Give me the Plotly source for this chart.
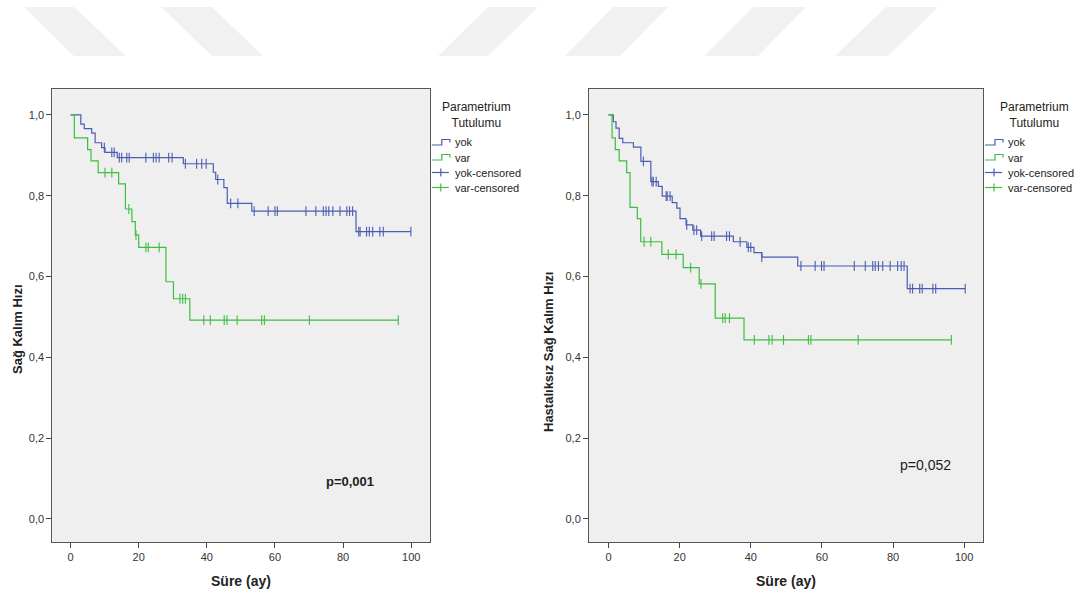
import numpy as np
import plotly.graph_objects as go

# ---------------- data ----------------
# Left panel: overall survival (Sağ Kalım Hızı)
os_yok_t = [0, 3.0, 4.0, 6.2, 7.2, 9.1, 10.1, 13.7, 33.1, 41.9, 42.6, 45.0, 46.0, 53.2, 83.8, 99.9]
os_yok_s = [1.0, 0.977, 0.966, 0.955, 0.931, 0.919, 0.907, 0.894, 0.879, 0.858, 0.840, 0.820, 0.781, 0.762, 0.711, 0.711]
os_yok_cens = [9.9, 12.1, 12.8, 14.3, 15.0, 16.5, 17.2, 22.1, 24.3, 25.1, 26.0, 28.8, 29.8,
               33.7, 37.0, 38.5, 39.8, 43.2, 47.0, 49.1, 53.9, 58.0, 60.0, 60.7, 69.1, 72.0,
               74.2, 75.0, 75.8, 77.0, 79.1, 81.1, 81.9, 82.8, 84.6, 85.0, 86.9, 87.7, 88.7,
               90.8, 91.8, 99.9]

os_var_t = [0, 1.1, 5.0, 6.0, 8.1, 14.1, 16.1, 18.0, 19.0, 20.0, 28.0, 30.2, 35.0, 96.2]
os_var_s = [1.0, 0.943, 0.914, 0.886, 0.857, 0.829, 0.767, 0.736, 0.703, 0.672, 0.587, 0.545, 0.492, 0.492]
os_var_cens = [10.1, 12.1, 17.1, 19.2, 22.1, 22.8, 26.0, 32.1, 32.9, 33.7, 39.1, 41.0, 45.1,
               45.9, 48.9, 56.1, 56.9, 70.1, 96.2]

# Right panel: disease-free survival (Hastalıksız Sağ Kalım Hızı)
dfs_yok_t = [0, 1.35, 2.1, 3.0, 4.0, 7.0, 9.1, 11.9, 14.0, 15.1, 17.9, 19.2, 20.1, 21.8, 23.7,
             25.9, 35.1, 38.9, 40.9, 43.1, 53.2, 84.0, 100.3]
dfs_yok_s = [1.0, 0.983, 0.967, 0.942, 0.931, 0.920, 0.885, 0.835, 0.823, 0.799, 0.783, 0.769,
             0.743, 0.728, 0.715, 0.700, 0.686, 0.672, 0.659, 0.648, 0.626, 0.570, 0.570]
dfs_yok_cens = [9.8, 12.2, 12.6, 13.4, 16.2, 16.5, 17.3, 22.0, 24.0, 24.8, 26.2, 29.0, 29.7,
                33.2, 34.0, 37.0, 39.3, 40.0, 43.1, 54.1, 58.1, 59.9, 60.6, 69.1, 72.2, 74.3,
                75.0, 75.9, 77.1, 79.2, 81.3, 82.3, 83.1, 84.8, 85.5, 87.5, 88.2, 91.2, 92.0,
                100.3]

dfs_var_t = [0, 1.0, 1.9, 3.0, 5.1, 6.05, 8.1, 9.05, 15.0, 21.0, 25.5, 30.0, 38.1, 96.4]
dfs_var_s = [1.0, 0.943, 0.914, 0.886, 0.857, 0.771, 0.743, 0.686, 0.655, 0.622, 0.582, 0.497, 0.443, 0.443]
dfs_var_cens = [10.0, 11.9, 16.8, 19.0, 23.1, 26.0, 32.1, 32.8, 34.0, 41.0, 45.1, 46.0, 49.2,
                56.2, 56.9, 70.2, 96.4]

x_ticks = [0, 20, 40, 60, 80, 100]
y_ticks = [0.0, 0.2, 0.4, 0.6, 0.8, 1.0]
y_ticktext = ["0,0", "0,2", "0,4", "0,6", "0,8", "1,0"]
groups = ["yok", "var"]
legend_labels = ["yok", "var", "yok-censored", "var-censored"]
legend_title = "Parametrium<br>Tutulumu"
y_titles = ["Sağ Kalım Hızı", "Hastalıksız Sağ Kalım Hızı"]
x_title = "Süre (ay)"
p_texts = ["<b>p=0,001</b>", "p=0,052"]

# ---------------- styling ----------------
W, H = 1077, 596
BLUE = "#4A5DB2"
GREEN = "#3EBE3E"
FONT = "Arial, Liberation Sans, sans-serif"
TXT = "#222222"


def px(x):
    return x / W


def py(y):
    return 1 - y / H


def step_at(t, s, c):
    t = np.asarray(t)
    s = np.asarray(s)
    idx = np.searchsorted(t, np.asarray(c), side="right") - 1
    return s[idx]


fig = go.Figure()

panels = [
    ("x", "y", (os_yok_t, os_yok_s, os_yok_cens), (os_var_t, os_var_s, os_var_cens)),
    ("x2", "y2", (dfs_yok_t, dfs_yok_s, dfs_yok_cens), (dfs_var_t, dfs_var_s, dfs_var_cens)),
]

for xa, ya, yok, var in panels:
    for (t, s, c), col, g in [(yok, BLUE, "yok"), (var, GREEN, "var")]:
        fig.add_trace(go.Scatter(x=t, y=s, mode="lines", line=dict(color=col, width=1.2, shape="hv"),
                                 xaxis=xa, yaxis=ya, showlegend=False, name=g, hoverinfo="skip"))
    for (t, s, c), col, g in [(yok, BLUE, "yok-censored"), (var, GREEN, "var-censored")]:
        fig.add_trace(go.Scatter(x=c, y=step_at(t, s, c), mode="markers",
                                 marker=dict(symbol="line-ns-open", size=7, color=col,
                                             line=dict(color=col, width=1.1)),
                                 xaxis=xa, yaxis=ya, showlegend=False, name=g, hoverinfo="skip"))

# plot-area geometry in pixels
left_box = (52.3, 429.8)
right_box = (589.0, 983.0)
top_px, bot_px = 89.0, 542.0

axis_common = dict(showline=True, mirror=True, linecolor="#555555", linewidth=1,
                   ticks="outside", ticklen=5, tickcolor="#444444", tickwidth=1,
                   showgrid=False, zeroline=False,
                   tickfont=dict(family=FONT, size=11, color="#333333"))

fig.update_layout(
    width=W, height=H,
    margin=dict(l=0, r=0, t=0, b=0),
    paper_bgcolor="white",
    plot_bgcolor="#EFEFEF",
    showlegend=False,
    xaxis=dict(domain=[px(left_box[0]), px(left_box[1])], range=[-5.37, 105.46],
               tickvals=x_ticks, anchor="y", **axis_common),
    yaxis=dict(domain=[py(bot_px), py(top_px)], range=[-0.057, 1.064],
               tickvals=y_ticks, ticktext=y_ticktext, anchor="x", **axis_common),
    xaxis2=dict(domain=[px(right_box[0]), px(right_box[1])], range=[-5.49, 105.3],
                tickvals=x_ticks, anchor="y2", **axis_common),
    yaxis2=dict(domain=[py(bot_px), py(top_px)], range=[-0.057, 1.064],
                tickvals=y_ticks, ticktext=y_ticktext, anchor="x2", **axis_common),
)

ann = []
shapes = []

# axis titles
for cx, cy, txt in [(17, 329, y_titles[0]), (548, 352, y_titles[1])]:
    ann.append(dict(x=px(cx), y=py(cy), xref="paper", yref="paper", text="<b>%s</b>" % txt,
                    textangle=-90, showarrow=False, xanchor="center", yanchor="middle",
                    font=dict(family=FONT, size=13, color=TXT)))
for box in (left_box, right_box):
    ann.append(dict(x=px((box[0] + box[1]) / 2), y=py(581), xref="paper", yref="paper",
                    text="<b>%s</b>" % x_title, showarrow=False, xanchor="center",
                    yanchor="middle", font=dict(family=FONT, size=14, color=TXT)))

# p-values (data coordinates)
ann.append(dict(x=82, y=0.092, xref="x", yref="y", text=p_texts[0], showarrow=False,
                font=dict(family=FONT, size=13, color=TXT)))
ann.append(dict(x=89, y=0.134, xref="x2", yref="y2", text=p_texts[1], showarrow=False,
                font=dict(family=FONT, size=14, color=TXT)))

# legends (drawn next to each panel)
for border, title_cx in [(left_box[1], 476.5), (right_box[1], 1034)]:
    ann.append(dict(x=px(title_cx), y=py(114.5), xref="paper", yref="paper", text=legend_title,
                    showarrow=False, xanchor="center", yanchor="middle", align="center",
                    font=dict(family=FONT, size=12, color=TXT)))
    ys = [142.5, 157.5, 172.5, 187.5]
    cols = [BLUE, GREEN, BLUE, GREEN]
    x0 = border + 2
    for i, (lab, yy, col) in enumerate(zip(legend_labels, ys, cols)):
        ann.append(dict(x=px(x0 + 21), y=py(yy), xref="paper", yref="paper", text=lab,
                        showarrow=False, xanchor="left", yanchor="middle",
                        font=dict(family=FONT, size=11, color=TXT)))
        if i < 2:
            path = "M %f,%f L %f,%f L %f,%f L %f,%f L %f,%f" % (
                px(x0), py(yy + 2.5), px(x0 + 10), py(yy + 2.5), px(x0 + 10), py(yy - 3),
                px(x0 + 18), py(yy - 3), px(x0 + 18), py(yy))
            shapes.append(dict(type="path", xref="paper", yref="paper", path=path,
                               line=dict(color=col, width=1.2)))
        else:
            shapes.append(dict(type="line", xref="paper", yref="paper", x0=px(x0), x1=px(x0 + 17),
                               y0=py(yy), y1=py(yy), line=dict(color=col, width=1.2)))
            shapes.append(dict(type="line", xref="paper", yref="paper", x0=px(x0 + 9), x1=px(x0 + 9),
                               y0=py(yy - 4), y1=py(yy + 4), line=dict(color=col, width=1.2)))

# faint watermark stripes at the top
stripes = [((24, 74), (74, 126)), ((161, 212), (212, 263)), ((488, 538), (438, 488)),
           ((613, 668), (565, 620)), ((753, 806), (704, 758)), ((886, 938), (835, 888))]
for (ta, tb), (ba, bb) in stripes:
    path = "M %f,%f L %f,%f L %f,%f L %f,%f Z" % (px(ta), py(7), px(tb), py(7),
                                                   px(bb), py(56), px(ba), py(56))
    shapes.append(dict(type="path", xref="paper", yref="paper", path=path,
                       fillcolor="#F1F1F1", line=dict(width=0), layer="below"))

fig.update_layout(annotations=ann, shapes=shapes)
fig.write_html("out.html")
